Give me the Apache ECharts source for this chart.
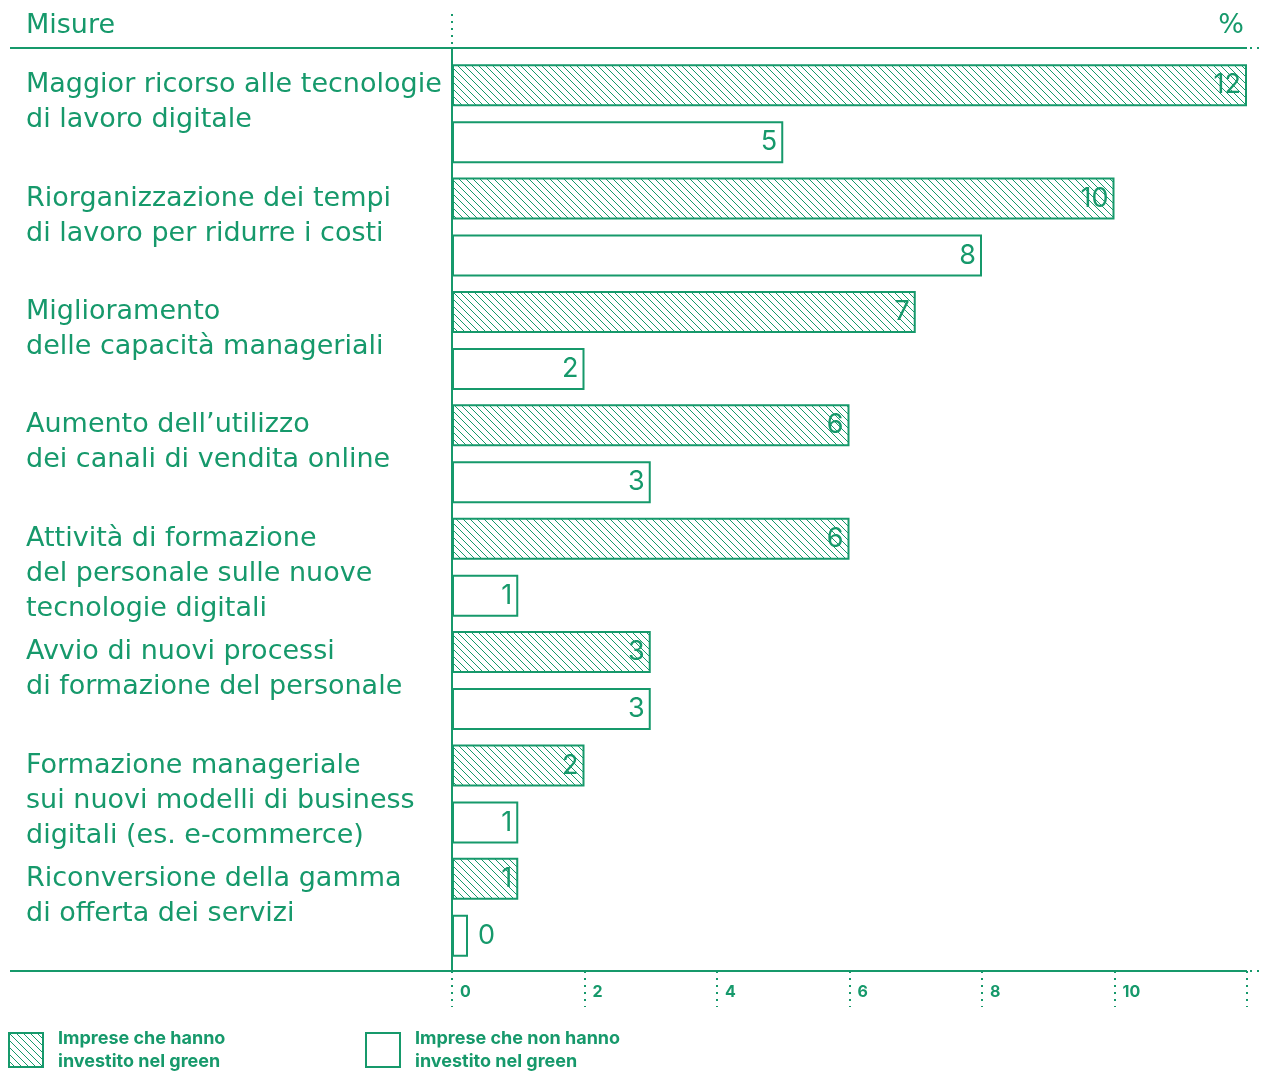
<!DOCTYPE html>
<html>
<head>
<meta charset="utf-8">
<script src="https://cdn.jsdelivr.net/npm/echarts@6/dist/echarts.min.js"></script>
<style>
  html, body { margin: 0; padding: 0; background: #fff; }
  #chart { width: 1268px; height: 1071px; }
</style>
</head>
<body>
<div id="chart"></div>
<script>
// dati
const misure = [
  'Maggior ricorso alle tecnologie\ndi lavoro digitale',
  'Riorganizzazione dei tempi\ndi lavoro per ridurre i costi',
  'Miglioramento\ndelle capacità manageriali',
  'Aumento dell\u2019utilizzo\ndei canali di vendita online',
  'Attività di formazione\ndel personale sulle nuove\ntecnologie digitali',
  'Avvio di nuovi processi\ndi formazione del personale',
  'Formazione manageriale\nsui nuovi modelli di business\ndigitali (es. e-commerce)',
  'Riconversione della gamma\ndi offerta dei servizi'
];
const green = [12, 10, 7, 6, 6, 3, 2, 1];
const noGreen = [5, 8, 2, 3, 1, 3, 1, 0];
const xTicks = [0, 2, 4, 6, 8, 10, 12];
const serieNames = ['Imprese che hanno\ninvestito nel green', 'Imprese che non hanno\ninvestito nel green'];

const C = '#16996b';
const FONT = 'DejaVu Sans';
const FONT2 = 'Inter';

// tratteggio diagonale
function hatch() {
  const s = 7;
  const cv = document.createElement('canvas');
  cv.width = s; cv.height = s;
  const ctx = cv.getContext('2d');
  ctx.strokeStyle = C;
  ctx.lineWidth = 1;
  ctx.beginPath();
  ctx.moveTo(-1, -1); ctx.lineTo(s + 1, s + 1);
  ctx.moveTo(-1, s - 1); ctx.lineTo(1, s + 1);
  ctx.moveTo(s - 1, -1); ctx.lineTo(s + 1, 1);
  ctx.stroke();
  return cv;
}

// etichette a 16 posizioni: testo sulla barra tratteggiata, vuoto su quella bianca
const labelSlots = [];
misure.forEach(m => { labelSlots.push(m); labelSlots.push(''); });

const gLeft = 452, gTop = 57, gH = 907, gRight = 1247;

const chart = echarts.init(document.getElementById('chart'));
chart.setOption({
  animation: false,
  textStyle: { fontFamily: FONT },
  grid: { left: gLeft, top: gTop, width: gRight - gLeft, height: gH, containLabel: false },
  legend: [
    { data: [serieNames[0]], left: 3, top: 1022, icon: 'rect', itemWidth: 34, itemHeight: 34,
      textStyle: { color: C, fontFamily: FONT2, fontSize: 18, fontWeight: 'bold', lineHeight: 23, padding: [0, 0, 0, 10] } },
    { data: [serieNames[1]], left: 360, top: 1022, icon: 'rect', itemWidth: 34, itemHeight: 34,
      textStyle: { color: C, fontFamily: FONT2, fontSize: 18, fontWeight: 'bold', lineHeight: 23, padding: [0, 0, 0, 10] } }
  ],
  xAxis: {
    type: 'value', min: 0, max: 12, interval: 2, offset: 7,
    axisLine: { show: false },
    splitLine: { show: false },
    axisTick: { show: true, length: 36, lineStyle: { color: C, type: [2, 5], width: 2 } },
    axisLabel: {
      color: C, fontFamily: FONT2, fontSize: 16, fontWeight: 'bold', align: 'left', margin: 13, padding: [0, 0, 0, 8],
      formatter: v => (xTicks.indexOf(v) >= 0 && v !== 12 ? String(v) : '')
    }
  },
  yAxis: [
    { type: 'category', data: misure, inverse: true,
      axisLine: { show: false }, axisTick: { show: false }, axisLabel: { show: false } },
    { type: 'category', data: labelSlots, inverse: true, position: 'left',
      axisLine: { show: false }, axisTick: { show: false },
      axisLabel: {
        interval: 0, align: 'left', margin: gLeft - 26, color: C, fontSize: 27, lineHeight: 35,
        padding: [3, 0, 0, 0],
        formatter: t => {
          if (!t) return '';
          const n = t.split('\n').length;
          // righe vuote sopra, così la prima riga resta centrata sulla barra
          return ' \n'.repeat(n - 1) + t;
        }
      } }
  ],
  series: [
    { name: serieNames[0], type: 'bar', data: green, barWidth: 42, barGap: '36%',
      itemStyle: { color: { image: hatch(), repeat: 'repeat' }, borderColor: C, borderWidth: 2 },
      label: { show: true, position: 'insideRight', distance: 6, color: C, fontFamily: FONT2, fontSize: 27 } },
    { name: serieNames[1], type: 'bar', data: noGreen.map(v => v === 0
        ? { value: v, label: { position: 'right', distance: 10 } } : v),
      barWidth: 42, barMinHeight: 16,
      itemStyle: { color: '#fff', borderColor: C, borderWidth: 2 },
      label: { show: true, position: 'insideRight', distance: 6, color: C, fontFamily: FONT2, fontSize: 27 } }
  ],
  graphic: [
    { type: 'text', left: 26, top: 12, style: { text: 'Misure', fill: C, font: '27px ' + FONT } },
    { type: 'text', right: 24, top: 12, style: { text: '%', fill: C, font: '27px ' + FONT } },
    { type: 'line', shape: { x1: 10, y1: 48, x2: gRight, y2: 48 }, style: { stroke: C, lineWidth: 2 } },
    { type: 'line', shape: { x1: gRight + 3, y1: 48, x2: 1264, y2: 48 }, style: { stroke: C, lineWidth: 2, lineDash: [2, 5] } },
    { type: 'line', shape: { x1: 10, y1: 971, x2: gRight, y2: 971 }, style: { stroke: C, lineWidth: 2 } },
    { type: 'line', shape: { x1: gRight + 3, y1: 971, x2: 1264, y2: 971 }, style: { stroke: C, lineWidth: 2, lineDash: [2, 5] } },
    { type: 'line', shape: { x1: gLeft, y1: 48, x2: gLeft, y2: 971 }, style: { stroke: C, lineWidth: 2 } },
    { type: 'line', shape: { x1: gLeft, y1: 14, x2: gLeft, y2: 47 }, style: { stroke: C, lineWidth: 2, lineDash: [2, 5] } }
  ]
});
</script>
</body>
</html>
